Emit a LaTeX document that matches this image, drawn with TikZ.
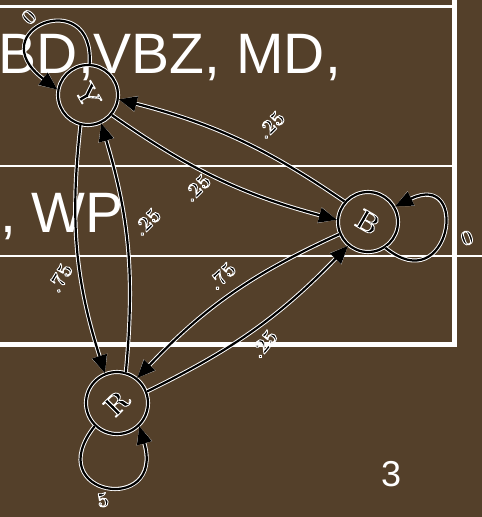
\documentclass[tikz,border=0pt]{standalone}
\usepackage{fontspec}
\usepackage{graphicx}
\newfontfamily\sansfont{Liberation Sans}
\usetikzlibrary{arrows.meta}
\definecolor{slidebrown}{RGB}{84,64,42}

% black glyphs stroked with a thin white outline (text render mode 2)
\newcommand\halo[1]{\special{pdf:literal direct 1 1 1 RG 0.9 w 1 j 2 Tr}#1%
  \special{pdf:literal direct 0 Tr}}

\begin{document}
\begin{tikzpicture}[x=1pt,y=1pt,
  state/.style={circle, minimum size=60pt, inner sep=0pt, draw=black, line width=2.2pt,
    preaction={draw=white, line width=4.1pt}, font=\bfseries\fontsize{28}{28}\selectfont},
  trans/.style={draw=black, line width=2.2pt, preaction={draw=white, line width=4.1pt},
    -{Triangle[length=18pt,width=15pt]}},
  prob/.style={inner sep=0pt, font=\bfseries\fontsize{21}{21}\selectfont},
  rule/.style={draw=white, line width=2.5pt},
  slidetext/.style={inner sep=0pt, anchor=base west, text=white,
    font=\sansfont\fontsize{57}{57}\selectfont}]

% slide background
\fill[slidebrown] (0,0) rectangle (482,-517);
\useasboundingbox (0,0) rectangle (482,-517);

% table rules
\draw[rule] (0,-6.5) -- (455,-6.5);
\draw[rule] (0,-166) -- (455,-166);
\draw[rule] (0,-256) -- (482,-256);
\draw[rule, line width=4.5pt] (0,-344.5) -- (457,-344.5);
\draw[rule, line width=5pt] (454.5,0) -- (454.5,-347);

% table text
\node[slidetext] (row1) at (-1.3,-73) {BD,VBZ, MD,};
\node[slidetext] (row2) at (0,-232) {, WP};
\node[slidetext, font=\sansfont\fontsize{36}{36}\selectfont] (pgno) at (381,-486) {3};

% states
\node[state] (Y) at (88,-95) {\rotatebox[origin=c]{-60}{\halo{Y}}};
\node[state] (B) at (368,-222) {\rotatebox[origin=c]{-30}{\halo{B}}};
\node[state, minimum size=62pt] (R) at (117,-403) {\rotatebox[origin=c]{45}{\halo{R}}};

% transitions
\draw[trans] (Y.-104) to[bend right=12] (R.112);
\draw[trans] (R.74) to[bend right=11] (Y.-65);
\draw[trans] (Y.-40) to[bend right=10] (B.176);
\draw[trans] (B.139) to[bend right=10] (Y.-8);
\draw[trans] (B.203) to[bend right=11] (R.51);
\draw[trans] (R.21) to[bend right=10] (B.230);

% self loops
\draw[trans] (Y.87) .. controls +(5,80) and +(-78.5,59.8) .. (Y.170);
\draw[trans] (B.-56) .. controls +(65,-53) and +(76,37) .. (B.30);
\draw[trans] (R.226) .. controls +(-55.5,-70) and +(26.5,-90) .. (R.-46);

% transition probabilities
\node[prob, rotate=45] (pBY) at (271,-125) {\halo{.25}};
\node[prob, rotate=45] (pYB) at (197,-188) {\halo{.25}};
\node[prob, rotate=45] (pRY) at (147,-222) {\halo{.25}};
\node[prob, rotate=60] (pYR) at (60,-278) {\halo{.75}};
\node[prob, rotate=45] (pBR) at (222,-276) {\halo{.75}};
\node[prob, rotate=50] (pRB) at (264,-344) {\halo{.25}};
\node[prob, rotate=45] (pYY) at (29,-17) {\halo{0}};
\node[prob, rotate=20] (pBB) at (467,-238) {\halo{0}};
\node[prob, rotate=10] (pRR) at (103,-500) {\halo{5}};
\end{tikzpicture}
\end{document}
